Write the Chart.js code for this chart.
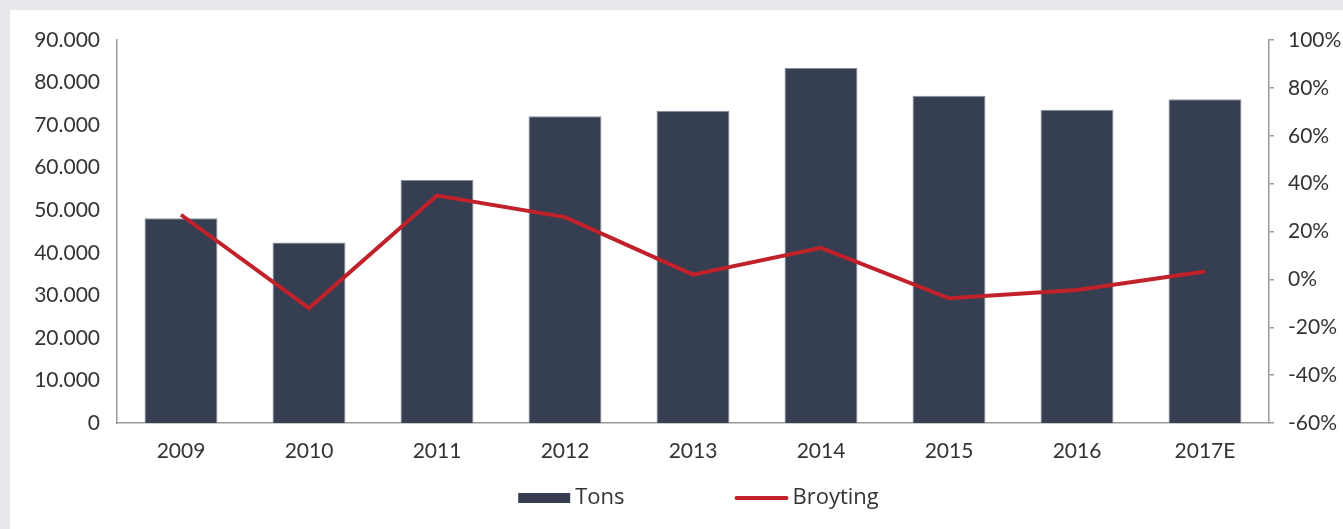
<!DOCTYPE html>
<html>
<head>
<meta charset="utf-8">
<script src="https://cdn.jsdelivr.net/npm/chart.js@4/dist/chart.umd.min.js"></script>
<style>
  html, body { margin: 0; padding: 0; background: #e8e8ec; }
  #wrap { position: absolute; left: 10px; top: 10px; width: 1333px; height: 519px; background: #fff; }
</style>
</head>
<body>
<div id="wrap"><canvas id="chart"></canvas></div>
<script>
// Volumes (tons) and yearly change (%)
const years = ['2009', '2010', '2011', '2012', '2013', '2014', '2015', '2016', '2017E'];
const tons = [48100, 42400, 57100, 72100, 73400, 83400, 76900, 73600, 76100];
const growth = [27, -12, 35, 26, 2, 13.2, -7.9, -4.4, 3.3];

const BAR_COLOR = '#353f51';
const LINE_COLOR = '#c0212a';
const TEXT_COLOR = '#333333';
const AXIS_COLOR = '#9a9a9a';

const thousands = v => String(v).replace(/\B(?=(\d{3})+(?!\d))/g, '.');

// Legend drawn under the x axis: a filled box for bars, a short stroke for the line
const bottomLegend = {
  id: 'bottomLegend',
  afterDraw(chart) {
    const ctx = chart.ctx;
    const area = chart.chartArea;
    const [bars, line] = chart.data.datasets;
    const swatch = 52, textGap = 5, itemGap = 110;
    ctx.save();
    ctx.font = '22px "Open Sans"';
    const w0 = swatch + textGap + ctx.measureText(bars.label).width;
    const w1 = swatch + textGap + ctx.measureText(line.label).width;
    let x = (area.left + area.right) / 2 + 5 - (w0 + itemGap + w1) / 2;
    const y = 488;

    ctx.fillStyle = bars.backgroundColor;
    ctx.fillRect(x, y - 5, swatch, 10);
    ctx.fillStyle = TEXT_COLOR;
    ctx.textBaseline = 'middle';
    ctx.fillText(bars.label, x + swatch + textGap, y);

    x += w0 + itemGap;
    ctx.strokeStyle = line.borderColor;
    ctx.lineWidth = 4;
    ctx.lineCap = 'round';
    ctx.beginPath();
    ctx.moveTo(x + 2, y);
    ctx.lineTo(x + swatch, y);
    ctx.stroke();
    ctx.fillStyle = TEXT_COLOR;
    ctx.fillText(line.label, x + swatch + textGap + 1, y);
    ctx.restore();
  }
};

const tickFont = { family: 'Lato', size: 21 };

new Chart(document.getElementById('chart'), {
  type: 'bar',
  data: {
    labels: years,
    datasets: [
      {
        type: 'bar',
        label: 'Tons',
        data: tons,
        yAxisID: 'yTons',
        backgroundColor: BAR_COLOR,
        borderColor: '#8a919d',
        borderWidth: 1,
        categoryPercentage: 1,
        barPercentage: 0.57,
        order: 1
      },
      {
        type: 'line',
        label: 'Broyting',
        data: growth,
        yAxisID: 'yPct',
        borderColor: LINE_COLOR,
        backgroundColor: LINE_COLOR,
        borderWidth: 4,
        pointRadius: 0,
        tension: 0,
        order: 0
      }
    ]
  },
  options: {
    responsive: true,
    maintainAspectRatio: false,
    animation: false,
    layout: { padding: { top: 30, left: 0, right: 0, bottom: 0 } },
    plugins: {
      legend: { display: false },
      tooltip: { enabled: false }
    },
    scales: {
      x: {
        grid: { display: false },
        border: { display: true, color: AXIS_COLOR, width: 1.5 },
        ticks: { color: TEXT_COLOR, font: tickFont, padding: 8 },
        afterFit(scale) { scale.height = 106; }
      },
      yTons: {
        position: 'left',
        min: 0,
        max: 90000,
        grid: { display: false },
        border: { display: true, color: AXIS_COLOR, width: 1.5 },
        ticks: {
          stepSize: 10000,
          color: TEXT_COLOR,
          font: tickFont,
          padding: 9,
          callback: v => thousands(v)
        },
        afterFit(scale) { scale.width = 107; }
      },
      yPct: {
        position: 'right',
        min: -60,
        max: 100,
        grid: {
          display: true,
          drawOnChartArea: false,
          drawTicks: true,
          tickLength: 5,
          color: AXIS_COLOR,
          lineWidth: 1.5
        },
        border: { display: true, color: AXIS_COLOR, width: 1.5 },
        ticks: {
          stepSize: 20,
          color: TEXT_COLOR,
          font: tickFont,
          padding: 14,
          callback: v => v + '%'
        },
        afterFit(scale) { scale.width = 74; }
      }
    }
  },
  plugins: [bottomLegend]
});
</script>
</body>
</html>
